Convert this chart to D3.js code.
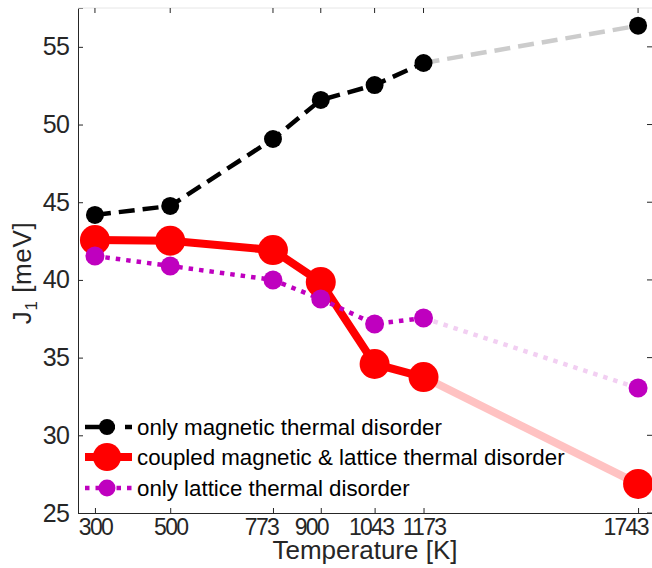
<!DOCTYPE html>
<html>
<head>
<meta charset="utf-8">
<script src="https://cdn.jsdelivr.net/npm/d3@7.9.0/dist/d3.min.js"></script>
<style>
  body { margin: 0; background: #fff; }
  text { font-family: "Liberation Sans", Arial, Helvetica, sans-serif; }
</style>
</head>
<body>
<svg id="chart" width="652" height="568"></svg>
<script>
const temps = [300, 500, 773, 900, 1043, 1173, 1743];
const magnetic = [44.18, 44.76, 49.07, 51.58, 52.54, 53.96, 56.36];
const coupled = [42.57, 42.52, 41.92, 39.86, 34.59, 33.75, 26.87];
const lattice = [41.54, 40.9, 40.0, 38.77, 37.16, 37.55, 33.04];
const yTicks = [25, 30, 35, 40, 45, 50, 55];
const labels = ['only magnetic thermal disorder',
                'coupled magnetic & lattice thermal disorder',
                'only lattice thermal disorder'];

const svg = d3.select('#chart');
const x = d3.scaleLinear().domain([255, 1780]).range([78, 652]);
const y = d3.scaleLinear().domain([25, 57.5]).range([513, 8]);
const axisColor = '#262626';

// axes (MATLAB style, ticks inward)
const xAxis = svg.append('g').attr('transform', 'translate(0,513)')
  .call(d3.axisBottom(x).tickValues(temps).tickSize(-5).tickPadding(4).tickFormat(d3.format('d')));
const yAxis = svg.append('g').attr('transform', 'translate(78,0)')
  .call(d3.axisLeft(y).tickValues(yTicks).tickSize(-5).tickPadding(9));
[xAxis, yAxis].forEach(a => {
  a.select('.domain').attr('stroke', axisColor).attr('stroke-width', 1);
  a.selectAll('.tick line').attr('stroke', axisColor);
  a.selectAll('.tick text').attr('fill', axisColor)
    .attr('font-family', '"Liberation Sans", Arial, sans-serif');
});
yAxis.selectAll('.tick text').attr('font-size', 25).attr('letter-spacing', '-0.8px');
// the exported figure squeezes the x labels a little and nudges some of them left
const labelNudge = [0, 0, -12, -10, -4, 0, -13];
xAxis.selectAll('.tick text').attr('font-size', 23).attr('letter-spacing', '-1.7px')
  .attr('dy', '0.78em').attr('dx', (d, i) => labelNudge[i]);

// top box edge and ticks
svg.append('line').attr('x1', 78).attr('x2', 652).attr('y1', 8).attr('y2', 8)
  .attr('stroke', '#e6e6e6');
svg.append('g').selectAll('line').data(temps).join('line')
  .attr('x1', d => x(d)).attr('x2', d => x(d)).attr('y1', 8).attr('y2', 13)
  .attr('stroke', axisColor);
svg.append('g').selectAll('line').data(yTicks).join('line')
  .attr('x1', 647).attr('x2', 652).attr('y1', d => y(d)).attr('y2', d => y(d))
  .attr('stroke', axisColor);

// axis labels
svg.append('text').attr('x', 365).attr('y', 559).attr('text-anchor', 'middle')
  .attr('font-size', 26).attr('fill', axisColor).text('Temperature [K]');
const yl = svg.append('text').attr('transform', 'translate(31,273) rotate(-90)')
  .attr('text-anchor', 'middle').attr('font-size', 26).attr('letter-spacing', '0.6px')
  .attr('fill', axisColor);
yl.append('tspan').text('J');
yl.append('tspan').attr('font-size', 17).attr('dy', 6).text('1');
yl.append('tspan').attr('dy', -6).text(' [meV]');

const series = [
  { vals: magnetic, color: '#000000', faded: '#cccccc', width: 4.5, dash: '16,8', legendDash: '30,10,7', r: 9, lr: 8 },
  { vals: coupled, color: '#ff0000', faded: '#ffc2c2', width: 8, dash: null, legendDash: null, r: 15, lr: 14 },
  { vals: lattice, color: '#bf00bf', faded: '#f2cff2', width: 4.5, dash: '4.5,6', legendDash: '4.5,6', r: 9.5, lr: 8.5 }
];

const line = d3.line().x(d => x(d[0])).y(d => y(d[1]));
const n = temps.length;

series.forEach(s => {
  const pts = temps.map((t, i) => [t, s.vals[i]]);
  svg.append('path').attr('d', line(pts.slice(n - 2)))
    .attr('fill', 'none').attr('stroke', s.faded).attr('stroke-width', s.width)
    .attr('stroke-dasharray', s.dash);
  svg.append('path').attr('d', line(pts.slice(0, n - 1)))
    .attr('fill', 'none').attr('stroke', s.color).attr('stroke-width', s.width)
    .attr('stroke-dasharray', s.dash);
});
series.forEach(s => {
  svg.append('g').selectAll('circle').data(temps).join('circle')
    .attr('cx', d => x(d)).attr('cy', (d, i) => y(s.vals[i]))
    .attr('r', s.r).attr('fill', s.color);
});

// legend
const legendY = [427, 457, 488];
series.forEach((s, i) => {
  const g = svg.append('g').attr('transform', `translate(0,${legendY[i]})`);
  g.append('line').attr('x1', 85).attr('x2', 132).attr('y1', 0).attr('y2', 0)
    .attr('stroke', s.color).attr('stroke-width', s.width)
    .attr('stroke-dasharray', s.legendDash);
  g.append('circle').attr('cx', 107).attr('cy', 0).attr('r', s.lr).attr('fill', s.color);
  g.append('text').attr('x', 137).attr('y', 0).attr('dy', '0.35em')
    .attr('font-size', 22.3).attr('fill', '#000').text(labels[i]);
});
</script>
</body>
</html>
